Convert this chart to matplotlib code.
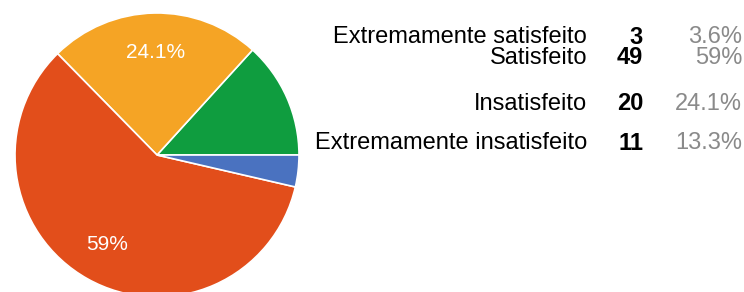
import matplotlib.pyplot as plt

plt.rcParams['font.family'] = ['Liberation Sans', 'DejaVu Sans']

# table order (top to bottom)
labels = ['Extremamente satisfeito', 'Satisfeito', 'Insatisfeito', 'Extremamente insatisfeito']
counts = [3, 49, 20, 11]
pcts = ['3.6%', '59%', '24.1%', '13.3%']
colors = ['#4a72c0', '#e24e1b', '#f5a425', '#0f9d3f']

W, H = 744, 292
fig = plt.figure(figsize=(W / 100, H / 100), dpi=100)

# pie in pixel geometry: center (157,155), radius 142
cx, cy, r = 157, 155, 142
ax = fig.add_axes([(cx - r) / W, (H - cy - r) / H, 2 * r / W, 2 * r / H])

# pie goes counter-clockwise from 3 o'clock in reverse table order
order = list(reversed(range(len(labels))))
vals = [counts[i] for i in order]
cols = [colors[i] for i in order]
shown = [pcts[i] if counts[i] / sum(counts) > 0.2 else '' for i in order]

wedges, texts = ax.pie(vals, colors=cols, startangle=0, counterclock=True,
                       labels=shown, labeldistance=0.72,
                       wedgeprops=dict(edgecolor='white', linewidth=1.2),
                       textprops=dict(color='white', fontsize=15))
for t in texts:
    t.set_ha('center')
    t.set_va('center')
ax.set_xlim(-1, 1)
ax.set_ylim(-1, 1)
ax.set_aspect('equal')
ax.axis('off')

# legend table
row_y = [37, 58, 104, 143]
for lab, n, p, y in zip(labels, counts, pcts, row_y):
    fy = 1 - y / H
    fig.text(587 / W, fy, lab, ha='right', va='center', fontsize=17, color='black')
    fig.text(643 / W, fy, str(n), ha='right', va='center', fontsize=17,
             fontweight='bold', color='black')
    fig.text(742 / W, fy, p, ha='right', va='center', fontsize=17, color='#8a8a8a')

fig.savefig('out.png', dpi=100)
